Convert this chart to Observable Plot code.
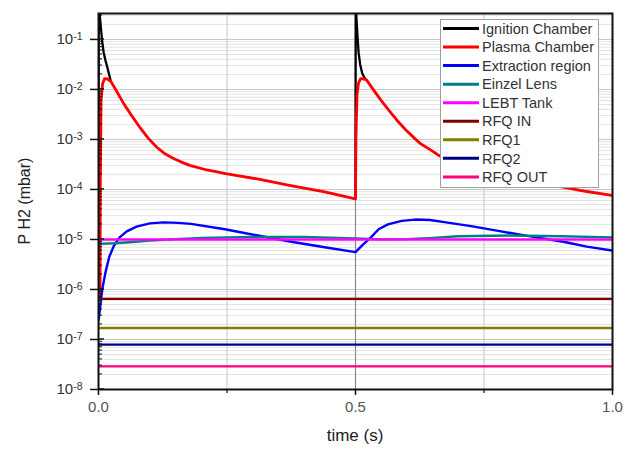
<!DOCTYPE html>
<html><head><meta charset="utf-8">
<script src="https://cdn.jsdelivr.net/npm/d3@7"></script>
<script src="https://cdn.jsdelivr.net/npm/@observablehq/plot@0.6"></script>
<style>
body{margin:0;background:#fff}
#chart{position:relative;width:626px;height:449px}
</style>
</head><body><div id="chart"></div>
<script>
// ---- data ----
const seriesNames = ["Ignition Chamber","Plasma Chamber","Extraction region","Einzel Lens","LEBT Tank","RFQ IN","RFQ1","RFQ2","RFQ OUT"];
const seriesColors = ["#000000","#ff0000","#0000ff","#008080","#ff00ff","#800000","#808000","#000080","#ff0080"];

const ignitionTime = [0, 0.0005, 0.002, 0.004, 0.007, 0.01, 0.0136, 0.017, 0.02, 0.024, 0.25, 0.4999, 0.5004, 0.502, 0.504, 0.506, 0.509, 0.513, 0.518, 0.522];
const ignitionP    = [1e-6, 0.5, 0.35, 0.2, 0.095, 0.055, 0.038, 0.028, 0.021, 0.0145, null, 6.5e-5, 0.5, 0.25, 0.11, 0.055, 0.032, 0.021, 0.0168, 0.0152];

const plasmaTime = [0.003, 0.0035, 0.005, 0.008, 0.012, 0.017, 0.024, 0.035, 0.049, 0.065, 0.082, 0.097, 0.114, 0.13, 0.147, 0.165, 0.179, 0.211, 0.25, 0.309, 0.374, 0.44, 0.4995,
                    0.5, 0.5008, 0.503, 0.506, 0.51, 0.516, 0.522, 0.535, 0.549, 0.565, 0.581, 0.597, 0.613, 0.626, 0.646, 0.665, 0.68, 0.7, 0.72, 0.75, 0.8, 0.85, 0.906, 0.95, 1.0];
const plasmaP    = [7e-7, 1e-4, 0.006, 0.013, 0.0165, 0.0162, 0.0145, 0.0093, 0.0052, 2.95e-3, 1.66e-3, 1.05e-3, 6.9e-4, 5.1e-4, 4.1e-4, 3.4e-4, 3.0e-4, 2.45e-4, 2.05e-4, 1.62e-4, 1.2e-4, 8.9e-5, 6.5e-5,
                    6.5e-5, 1e-3, 0.008, 0.0135, 0.0165, 0.0162, 0.0152, 0.0098, 6.2e-3, 3.8e-3, 2.4e-3, 1.58e-3, 1.1e-3, 8.3e-4, 6.2e-4, 4.6e-4, 3.7e-4, 3.0e-4, 2.6e-4, 2.2e-4, 1.74e-4, 1.38e-4, 1.1e-4, 9.1e-5, 7.6e-5];

const extractionTime = [0, 0.002, 0.005, 0.008, 0.014, 0.021, 0.03, 0.041, 0.055, 0.074, 0.1, 0.127, 0.155, 0.18, 0.246, 0.31, 0.378, 0.44, 0.5,
                        0.515, 0.53, 0.545, 0.563, 0.59, 0.616, 0.645, 0.676, 0.725, 0.775, 0.84, 0.907, 0.95, 1.0];
const extractionP    = [2.4e-7, 3.5e-7, 6.5e-7, 1.1e-6, 2.3e-6, 4.5e-6, 7.5e-6, 1.1e-5, 1.45e-5, 1.8e-5, 2.1e-5, 2.2e-5, 2.15e-5, 2.05e-5, 1.6e-5, 1.2e-5, 8.9e-6, 7e-6, 5.6e-6,
                        8e-6, 1.1e-5, 1.6e-5, 2.0e-5, 2.35e-5, 2.5e-5, 2.45e-5, 2.2e-5, 1.85e-5, 1.5e-5, 1.15e-5, 8.9e-6, 7.2e-6, 6e-6];

const einzelTime = [0, 0.03, 0.06, 0.1, 0.15, 0.2, 0.25, 0.3, 0.4, 0.5, 0.55, 0.6, 0.65, 0.7, 0.8, 0.9, 1.0];
const einzelP    = [8.2e-6, 8.4e-6, 8.8e-6, 9.5e-6, 1.02e-5, 1.07e-5, 1.1e-5, 1.12e-5, 1.12e-5, 1.05e-5, 1.0e-5, 1.02e-5, 1.08e-5, 1.16e-5, 1.2e-5, 1.16e-5, 1.1e-5];

const lebtTime = [0, 1]; const lebtP = [1.0e-5, 1.0e-5];
const rfqInTime = [0, 1]; const rfqInP = [6.5e-7, 6.5e-7];
const rfq1Time = [0, 1]; const rfq1P = [1.7e-7, 1.7e-7];
const rfq2Time = [0, 1]; const rfq2P = [7.9e-8, 7.9e-8];
const rfqOutTime = [0, 1]; const rfqOutP = [2.9e-8, 2.9e-8];

const seriesTimes = [ignitionTime, plasmaTime, extractionTime, einzelTime, lebtTime, rfqInTime, rfq1Time, rfq2Time, rfqOutTime];
const seriesValues = [ignitionP, plasmaP, extractionP, einzelP, lebtP, rfqInP, rfq1P, rfq2P, rfqOutP];
const seriesWidths = [2.3, 2.8, 2.4, 2.3, 2.4, 2.4, 2.4, 2.4, 2.4];

const xMajorTicks = [0, 0.5, 1];
const xMinorTicks = [0.25, 0.75];
const yDecades = [1e-8, 1e-7, 1e-6, 1e-5, 1e-4, 1e-3, 1e-2, 1e-1];
const yMinor = [];
for (let e = -9; e <= 0; e++) for (let m = 2; m <= 9; m++) { const v = m * Math.pow(10, e); if (v > 1e-8 && v < 0.33) yMinor.push(v); }

// ---- build ----
const rows = seriesNames.map((name, i) => seriesTimes[i].map((t, j) => ({series: name, t, p: seriesValues[i][j]})));
const FONT = "'Liberation Sans', Arial, sans-serif";

const chart = Plot.plot({
  width: 626, height: 449,
  marginLeft: 98, marginRight: 14, marginTop: 13, marginBottom: 60,
  style: {fontFamily: FONT, background: "white"},
  x: {domain: [0, 1]},
  y: {type: "log", domain: [1e-8, 0.33]},
  marks: [
    Plot.ruleY(yMinor, {stroke: "#e3e3e3", strokeWidth: 1}),
    Plot.ruleY(yDecades, {stroke: "#c6c6c6", strokeWidth: 1}),
    Plot.ruleX(xMinorTicks, {stroke: "#c6c6c6", strokeWidth: 1}),
    Plot.ruleX([0.5], {stroke: "#8a8a8a", strokeWidth: 1.2}),
    ...rows.map((r, i) => Plot.line(r, {x: "t", y: "p", stroke: seriesColors[i], strokeWidth: seriesWidths[i], clip: true, curve: "linear"})),
    Plot.frame({stroke: "#111", strokeWidth: 2}),
    Plot.axisY(yDecades, {anchor: "left", tickSize: 8, tickPadding: 8, tickFormat: d => "E" + Math.round(Math.log10(d)), fontSize: 15, fill: "#333", label: null, strokeWidth: 1.5, stroke: "#111"}),
    Plot.axisX(xMajorTicks, {anchor: "bottom", tickSize: 6, tickPadding: 6, tickFormat: d3.format(".1f"), fontSize: 15, fill: "#555", label: null, strokeWidth: 1.5, stroke: "#111"}),
    Plot.axisX(xMinorTicks, {anchor: "bottom", tickSize: 4, tickFormat: () => "", label: null, strokeWidth: 1.2, stroke: "#111"})
  ]
});
document.getElementById("chart").appendChild(chart);

const svg = d3.select(chart);
const ys = chart.scale("y"), xs = chart.scale("x");

// superscript tick labels
svg.selectAll('g[aria-label="y-axis tick label"] text').each(function() {
  const s = this.textContent;
  if (!s.startsWith("E")) return;
  const e = s.slice(1);
  const t = d3.select(this);
  t.text("");
  t.append("tspan").text("10");
  t.append("tspan").attr("dy", "-0.45em").attr("font-size", "10.5px").text(e);
});

// inward minor / major ticks on y axis
const tg = svg.append("g").attr("stroke", "#111");
yMinor.forEach(v => tg.append("line").attr("x1", 98).attr("x2", 102).attr("y1", ys.apply(v)).attr("y2", ys.apply(v)).attr("stroke-width", 1));
yDecades.forEach(v => tg.append("line").attr("x1", 98).attr("x2", 104).attr("y1", ys.apply(v)).attr("y2", ys.apply(v)).attr("stroke-width", 1.5));

// axis titles
svg.append("text").attr("x", xs.apply(0.5)).attr("y", 441).attr("text-anchor", "middle")
  .attr("font-size", "17px").attr("fill", "#222").attr("font-family", FONT).text("time (s)");
svg.append("text").attr("transform", `translate(30,${(ys.apply(1e-8) + ys.apply(0.33)) / 2}) rotate(-90)`).attr("text-anchor", "middle")
  .attr("font-size", "16px").attr("fill", "#222").attr("font-family", FONT).text("P H2 (mbar)");

// legend
const lg = svg.append("g").attr("font-family", FONT).attr("font-size", "14.5px").attr("text-anchor", "start");
lg.append("rect").attr("x", 440.5).attr("y", 19.5).attr("width", 158).attr("height", 168).attr("fill", "white").attr("stroke", "#a0a0a0").attr("stroke-width", 1);
seriesNames.forEach((name, i) => {
  const y = 28.5 + i * 18.55;
  lg.append("line").attr("x1", 443).attr("x2", 479).attr("y1", y).attr("y2", y).attr("stroke", seriesColors[i]).attr("stroke-width", 3);
  lg.append("text").attr("x", 482).attr("y", y).attr("dy", "0.36em").attr("text-anchor", "start").attr("fill", "#333").text(name);
});
</script>
</body></html>
